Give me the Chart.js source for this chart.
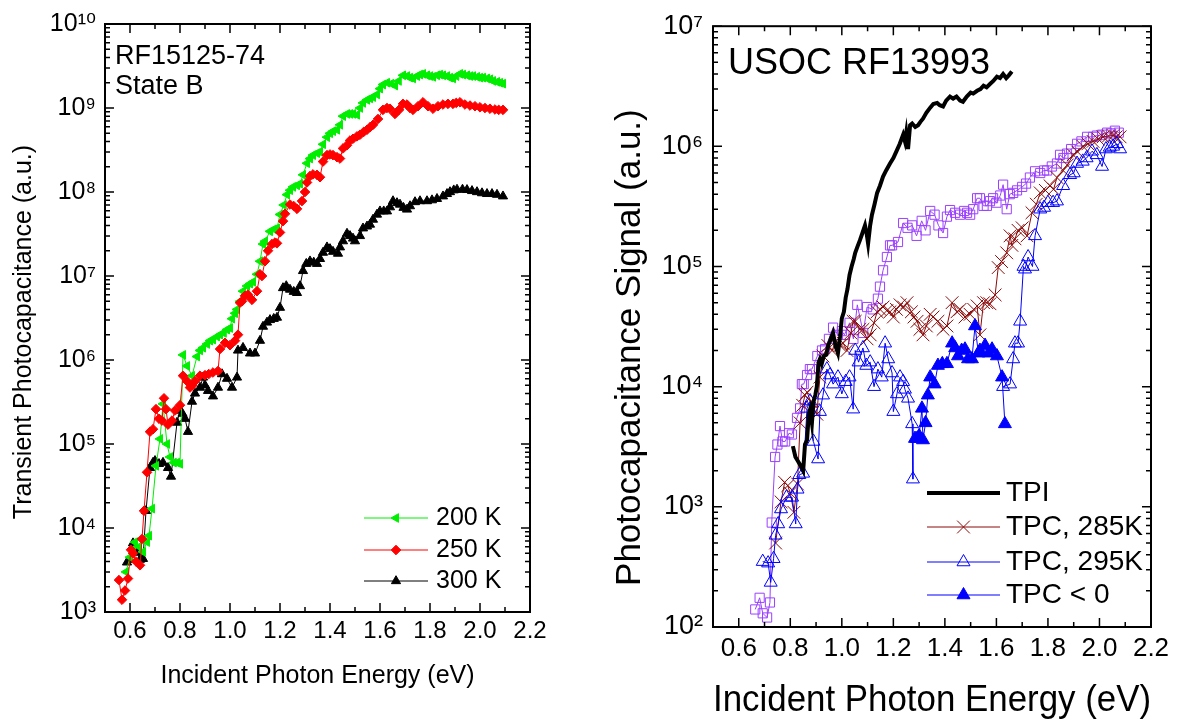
<!DOCTYPE html>
<html>
<head>
<meta charset="utf-8">
<script src="https://cdn.jsdelivr.net/npm/chart.js@4.4.1/dist/chart.umd.min.js"></script>
<style>
  body { margin: 0; background: #fff; }
  #wrap { position: relative; width: 1179px; height: 723px; }
  .panel { position: absolute; top: 0; }
  #left { left: 0; }
  #right { left: 580px; }
</style>
</head>
<body>
<div id="wrap">
  <div class="panel" id="left"><canvas id="chartLeft" width="580" height="723"></canvas></div>
  <div class="panel" id="right"><canvas id="chartRight" width="599" height="723"></canvas></div>
</div>
<script>
// ---- tick values ----
const energyTicks = [0.6, 0.8, 1.0, 1.2, 1.4, 1.6, 1.8, 2.0, 2.2];
const leftDecades = [1e3, 1e4, 1e5, 1e6, 1e7, 1e8, 1e9, 1e10];
const rightDecades = [1e2, 1e3, 1e4, 1e5, 1e6, 1e7];

// ---- left panel: transient photocapacitance, [energy eV, signal] ----
const data200K = [
  [0.584,3.0e3],[0.600,4.5e3],[0.612,5.5e3],[0.620,6.8e3],[0.636,6.0e3],[0.652,5.2e3],[0.668,6.8e3],[0.676,8.1e3],
  [0.688,1.7e4],[0.704,5.5e4],[0.720,1.15e5],[0.732,3.0e5],[0.748,1.0e5],[0.760,7.0e4],[0.775,6.0e4],[0.788,6.0e4],
  [0.800,5.8e4],[0.812,1.15e6],[0.828,8.5e5],[0.848,6.5e5],[0.868,1.1e6],[0.880,1.3e6],[0.892,1.4e6],[0.908,1.55e6],
  [0.920,1.7e6],[0.932,1.75e6],[0.948,1.9e6],[0.960,2.0e6],[0.975,2.1e6],[0.988,2.3e6],[1.000,2.4e6],[1.008,3.1e6],
  [1.020,3.6e6],[1.028,4.0e6],[1.040,5.0e6],[1.052,6.6e6],[1.068,7.6e6],[1.080,8.1e6],[1.092,8.5e6],[1.108,1.05e7],
  [1.120,1.5e7],[1.132,2.4e7],[1.140,2.6e7],[1.160,3.4e7],[1.175,3.6e7],[1.188,3.7e7],[1.200,5.4e7],[1.215,7.0e7],
  [1.228,9.3e7],[1.240,1.05e8],[1.252,1.15e8],[1.268,1.2e8],[1.280,1.25e8],[1.292,1.6e8],[1.308,2.2e8],[1.320,2.5e8],
  [1.332,2.75e8],[1.348,2.9e8],[1.360,3.0e8],[1.372,3.7e8],[1.388,4.5e8],[1.400,5.0e8],[1.412,5.3e8],[1.428,5.5e8],
  [1.440,6.3e8],[1.452,8.0e8],[1.468,8.5e8],[1.480,8.5e8],[1.492,8.5e8],[1.508,8.3e8],[1.520,1.0e9],[1.532,1.15e9],
  [1.548,1.25e9],[1.560,1.3e9],[1.572,1.35e9],[1.588,1.45e9],[1.600,1.7e9],[1.612,1.9e9],[1.628,2.0e9],[1.645,1.95e9],
  [1.660,1.85e9],[1.675,2.1e9],[1.692,2.45e9],[1.708,2.4e9],[1.720,2.3e9],[1.732,2.25e9],[1.748,2.4e9],[1.760,2.5e9],
  [1.772,2.55e9],[1.788,2.45e9],[1.800,2.4e9],[1.812,2.35e9],[1.828,2.45e9],[1.840,2.5e9],[1.852,2.45e9],[1.868,2.4e9],
  [1.880,2.3e9],[1.892,2.25e9],[1.905,2.4e9],[1.920,2.55e9],[1.932,2.5e9],[1.948,2.45e9],[1.960,2.4e9],[1.972,2.4e9],
  [1.988,2.35e9],[2.000,2.3e9],[2.012,2.3e9],[2.028,2.25e9],[2.040,2.2e9],[2.052,2.1e9],[2.068,2.05e9],[2.080,2.0e9],
  [2.092,1.95e9]
];
const data250K = [
  [0.556,2.4e3],[0.568,1.4e3],[0.580,1.8e3],[0.592,2.5e3],[0.604,5.5e3],[0.612,5.0e3],[0.624,4.0e3],[0.640,3.6e3],
  [0.648,7.4e3],[0.656,1.6e4],[0.668,4.6e4],[0.680,1.4e5],[0.692,1.5e5],[0.704,2.6e5],[0.716,2.0e5],[0.728,1.9e5],
  [0.736,3.5e5],[0.744,2.6e5],[0.752,1.7e5],[0.768,1.9e5],[0.780,2.5e5],[0.800,2.9e5],[0.812,6.5e5],[0.828,5.6e5],
  [0.840,4.7e5],[0.850,5.0e5],[0.860,5.6e5],[0.880,6.5e5],[0.900,6.6e5],[0.915,6.8e5],[0.932,7.1e5],[0.952,7.4e5],
  [0.960,1.35e6],[0.980,1.6e6],[1.000,1.5e6],[1.020,1.7e6],[1.032,2.0e6],[1.040,4.8e6],[1.048,5.0e6],[1.060,5.8e6],
  [1.072,6.0e6],[1.088,5.2e6],[1.108,6.6e6],[1.120,1.05e7],[1.128,1.0e7],[1.140,1.5e7],[1.152,2.0e7],[1.168,2.4e7],
  [1.180,2.5e7],[1.188,2.45e7],[1.200,3.3e7],[1.212,4.5e7],[1.220,5.5e7],[1.240,7.1e7],[1.255,6.8e7],[1.268,6.3e7],
  [1.288,7.8e7],[1.300,1.0e8],[1.308,1.3e8],[1.320,1.55e8],[1.332,1.62e8],[1.348,1.6e8],[1.360,1.5e8],[1.372,2.3e8],
  [1.388,2.75e8],[1.400,2.8e8],[1.412,2.75e8],[1.428,2.6e8],[1.440,2.5e8],[1.452,3.3e8],[1.468,3.6e8],[1.480,4.1e8],
  [1.492,4.3e8],[1.508,4.6e8],[1.520,4.8e8],[1.535,5.2e8],[1.548,5.5e8],[1.560,5.9e8],[1.572,6.3e8],[1.592,7.4e8],
  [1.612,9.5e8],[1.628,1.0e9],[1.640,9.8e8],[1.660,8.5e8],[1.676,9.5e8],[1.692,1.12e9],[1.708,1.1e9],[1.720,1.0e9],
  [1.732,9.5e8],[1.752,1.05e9],[1.772,1.17e9],[1.792,1.05e9],[1.812,9.8e8],[1.832,1.05e9],[1.852,1.1e9],[1.872,1.12e9],
  [1.892,1.12e9],[1.905,1.15e9],[1.920,1.17e9],[1.940,1.1e9],[1.960,1.07e9],[1.980,1.05e9],[2.000,1.02e9],[2.020,1.0e9],
  [2.040,9.8e8],[2.060,9.6e8],[2.075,9.5e8],[2.092,9.5e8]
];
const data300K = [
  [0.588,3.9e3],[0.600,4.2e3],[0.612,6.6e3],[0.628,5.1e3],[0.640,4.2e3],[0.652,4.3e3],[0.664,1.6e4],[0.680,5.2e4],
  [0.692,6.0e4],[0.700,6.3e4],[0.716,5.8e4],[0.732,6.0e4],[0.752,5.2e4],[0.764,4.1e4],[0.788,1.8e5],[0.800,2.5e5],
  [0.810,2.3e5],[0.820,2.0e5],[0.832,1.4e5],[0.848,3.2e5],[0.860,4.0e5],[0.880,4.7e5],[0.892,6.2e5],[0.900,5.0e5],
  [0.912,4.3e5],[0.932,3.7e5],[0.952,4.7e5],[0.968,6.8e5],[0.988,6.0e5],[1.008,4.7e5],[1.028,6.2e5],[1.032,1.3e6],
  [1.052,1.4e6],[1.080,1.2e6],[1.100,1.2e6],[1.120,1.7e6],[1.132,2.5e6],[1.148,2.8e6],[1.160,3.0e6],[1.175,3.1e6],
  [1.188,3.2e6],[1.200,4.2e6],[1.212,7.2e6],[1.225,7.6e6],[1.240,6.9e6],[1.255,6.5e6],[1.268,6.3e6],[1.280,7.6e6],
  [1.292,1.15e7],[1.305,1.4e7],[1.320,1.5e7],[1.335,1.45e7],[1.348,1.4e7],[1.360,1.6e7],[1.372,1.9e7],[1.388,2.2e7],
  [1.400,2.1e7],[1.412,1.95e7],[1.432,1.85e7],[1.440,2.2e7],[1.452,2.6e7],[1.468,3.2e7],[1.480,3.0e7],[1.492,2.8e7],
  [1.500,2.6e7],[1.520,3.0e7],[1.532,3.7e7],[1.548,3.9e7],[1.560,4.1e7],[1.572,4.7e7],[1.588,5.4e7],[1.600,5.9e7],
  [1.615,5.9e7],[1.628,5.9e7],[1.640,6.6e7],[1.652,7.8e7],[1.668,7.4e7],[1.680,7.1e7],[1.694,6.5e7],[1.708,6.2e7],
  [1.720,6.8e7],[1.740,7.6e7],[1.760,7.8e7],[1.788,7.8e7],[1.808,8.0e7],[1.828,8.3e7],[1.852,8.9e7],[1.868,9.5e7],
  [1.880,1.0e8],[1.895,1.05e8],[1.908,1.07e8],[1.930,1.07e8],[1.948,1.06e8],[1.968,1.03e8],[1.988,1.0e8],[2.008,9.7e7],
  [2.028,9.5e7],[2.048,9.5e7],[2.068,9.3e7],[2.092,8.9e7]
];

// ---- right panel: photocapacitance signal, [energy eV, signal] ----
const dataTPI = [
  [0.810,3.2e3],[0.820,2.6e3],[0.830,2.4e3],[0.840,2.2e3],[0.850,2.0e3],[0.857,3.3e3],[0.865,3.6e3],[0.872,6.0e3],
  [0.877,6.5e3],[0.884,5.0e3],[0.890,7.5e3],[0.897,8.5e3],[0.903,1.0e4],[0.910,1.6e4],[0.915,1.7e4],[0.922,1.55e4],
  [0.930,1.8e4],[0.940,1.85e4],[0.947,2.2e4],[0.954,2.4e4],[0.960,2.6e4],[0.966,2.8e4],[0.975,2.2e4],[0.985,1.9e4],
  [0.993,2.6e4],[1.000,3.7e4],[1.008,4.2e4],[1.015,5.5e4],[1.022,6.5e4],[1.030,8.5e4],[1.038,1.0e5],[1.046,1.15e5],
  [1.052,1.3e5],[1.060,1.45e5],[1.070,1.65e5],[1.080,1.9e5],[1.090,2.2e5],[1.096,1.9e5],[1.102,1.55e5],[1.110,2.2e5],
  [1.117,2.7e5],[1.127,3.3e5],[1.137,4.1e5],[1.148,4.7e5],[1.160,5.6e5],[1.172,6.3e5],[1.187,7.2e5],[1.200,8.0e5],
  [1.214,9.3e5],[1.225,1.05e6],[1.238,1.25e6],[1.245,1.1e6],[1.250,1.3e6],[1.257,9.5e5],[1.265,1.5e6],[1.273,1.55e6],
  [1.285,1.45e6],[1.296,1.5e6],[1.305,1.6e6],[1.315,1.7e6],[1.328,1.9e6],[1.343,2.1e6],[1.355,2.25e6],[1.370,2.3e6],
  [1.380,2.2e6],[1.393,2.15e6],[1.405,2.4e6],[1.420,2.6e6],[1.432,2.5e6],[1.445,2.6e6],[1.459,2.4e6],[1.470,2.35e6],
  [1.485,2.6e6],[1.500,2.8e6],[1.510,2.75e6],[1.525,2.9e6],[1.538,3.0e6],[1.550,3.2e6],[1.562,3.1e6],[1.575,3.3e6],
  [1.588,3.5e6],[1.602,3.8e6],[1.614,3.7e6],[1.626,4.0e6],[1.638,3.7e6],[1.648,3.9e6],[1.660,4.2e6]
];
const dataViolet = [
  [0.664,1.4e2],[0.681,1.75e2],[0.693,1.3e2],[0.710,1.2e2],[0.721,1.6e2],[0.728,7.4e2],[0.741,2.6e3],[0.750,3.3e3],
  [0.760,4.7e3],[0.770,3.5e3],[0.780,3.5e3],[0.795,4.1e3],[0.806,4.0e3],[0.826,5.5e3],[0.838,6.6e3],[0.845,1.05e4],
  [0.852,1.05e4],[0.865,1.25e4],[0.876,1.4e4],[0.884,1.4e4],[0.905,1.8e4],[0.923,2.0e4],[0.935,2.05e4],[0.950,2.5e4],
  [0.966,3.1e4],[0.985,2.7e4],[1.000,2.9e4],[1.010,2.7e4],[1.030,3.4e4],[1.045,2.5e4],[1.060,4.8e4],[1.083,2.8e4],
  [1.098,4.6e4],[1.120,4.4e4],[1.140,5.4e4],[1.148,6.8e4],[1.160,9.3e4],[1.175,1.2e5],[1.187,1.5e5],[1.195,1.5e5],
  [1.218,1.6e5],[1.238,2.3e5],[1.255,2.1e5],[1.273,2.2e5],[1.290,1.8e5],[1.310,2.4e5],[1.325,2.0e5],[1.343,2.9e5],
  [1.360,2.7e5],[1.375,2.2e5],[1.393,1.9e5],[1.408,2.6e5],[1.420,2.95e5],[1.440,2.8e5],[1.459,2.7e5],[1.475,2.9e5],
  [1.486,2.8e5],[1.498,2.7e5],[1.510,3.0e5],[1.525,3.7e5],[1.536,3.7e5],[1.550,3.2e5],[1.563,3.2e5],[1.575,3.5e5],
  [1.587,3.7e5],[1.600,3.4e5],[1.615,3.9e5],[1.626,4.8e5],[1.640,3.0e5],[1.652,4.0e5],[1.665,4.1e5],[1.680,4.3e5],
  [1.700,4.6e5],[1.715,4.9e5],[1.730,5.5e5],[1.750,6.2e5],[1.770,6.0e5],[1.785,6.3e5],[1.797,6.3e5],[1.815,6.8e5],
  [1.835,7.2e5],[1.847,8.5e5],[1.860,8.0e5],[1.874,8.7e5],[1.890,9.5e5],[1.913,1.05e6],[1.930,1.1e6],[1.952,1.2e6],
  [1.975,1.2e6],[1.990,1.23e6],[2.010,1.25e6],[2.030,1.3e6],[2.045,1.28e6],[2.060,1.35e6],[2.075,1.3e6]
];
const data285K = [
  [0.743,5.0e2],[0.764,1.1e3],[0.778,1.6e3],[0.790,1.5e3],[0.800,1.3e3],[0.814,9.0e2],[0.828,1.55e3],[0.838,5.0e3],
  [0.848,7.0e3],[0.857,8.5e3],[0.865,9.0e3],[0.880,7.5e3],[0.890,6.5e3],[0.903,5.9e3],[0.915,1.2e4],[0.927,1.8e4],
  [0.946,2.2e4],[0.962,2.0e4],[0.978,2.4e4],[0.993,2.2e4],[1.005,2.3e4],[1.020,2.0e4],[1.035,2.8e4],[1.044,3.5e4],
  [1.052,3.5e4],[1.070,3.0e4],[1.082,3.0e4],[1.098,2.5e4],[1.110,2.7e4],[1.125,3.4e4],[1.137,4.2e4],[1.148,4.4e4],
  [1.160,4.6e4],[1.175,4.3e4],[1.187,4.2e4],[1.200,3.8e4],[1.212,4.4e4],[1.226,4.8e4],[1.240,4.6e4],[1.253,5.0e4],
  [1.270,4.2e4],[1.280,3.8e4],[1.292,3.5e4],[1.303,3.0e4],[1.315,2.7e4],[1.328,3.2e4],[1.343,4.0e4],[1.354,3.8e4],
  [1.373,3.5e4],[1.393,3.0e4],[1.408,3.2e4],[1.428,5.0e4],[1.447,4.2e4],[1.459,4.4e4],[1.478,3.8e4],[1.498,4.0e4],
  [1.512,4.4e4],[1.525,4.7e4],[1.536,2.7e4],[1.550,5.0e4],[1.563,5.0e4],[1.575,4.9e4],[1.595,5.8e4],[1.607,9.8e4],
  [1.620,1.1e5],[1.640,1.3e5],[1.653,1.8e5],[1.660,1.5e5],[1.672,1.7e5],[1.684,2.0e5],[1.700,2.1e5],[1.719,1.8e5],
  [1.738,2.8e5],[1.755,3.3e5],[1.770,4.1e5],[1.790,4.3e5],[1.808,4.7e5],[1.822,4.4e5],[1.835,5.5e5],[1.859,6.3e5],
  [1.875,7.0e5],[1.898,8.5e5],[1.915,9.0e5],[1.936,1.0e6],[1.955,1.05e6],[1.975,1.1e6],[1.995,1.15e6],[2.014,1.2e6],
  [2.035,1.22e6],[2.053,1.23e6],[2.065,1.2e6],[2.080,1.2e6]
];
// null marks the stretch where the signal is negative (drawn as "TPC < 0")
const data295K = [
  [0.693,3.5e2],[0.714,3.4e2],[0.724,2.35e2],[0.735,3.7e2],[0.743,5.8e2],[0.753,7.2e2],[0.764,9.6e2],[0.785,1.2e3],
  [0.807,1.2e3],[0.821,7.2e2],[0.828,1.4e3],[0.835,1.85e3],[0.850,1.9e3],[0.865,6.6e3],[0.877,7.6e3],[0.890,3.5e3],
  [0.908,2.5e3],[0.915,6.2e3],[0.927,8.5e3],[0.942,1.4e4],[0.954,1.25e4],[0.966,1.05e4],[0.985,1.2e4],[1.000,8.7e3],
  [1.015,1.1e4],[1.030,1.2e4],[1.044,6.5e3],[1.052,2.0e4],[1.065,1.6e4],[1.082,2.1e4],[1.095,1.5e4],[1.110,1.6e4],
  [1.125,1.0e4],[1.140,1.4e4],[1.155,1.2e4],[1.168,2.3e4],[1.180,1.7e4],[1.195,1.3e4],[1.200,6.2e3],[1.214,8.7e3],
  [1.226,1.2e4],[1.238,1.1e4],[1.245,9.5e3],[1.257,8.0e3],[1.273,4.9e3],[1.276,1.7e3],
  [1.450,null],
  [1.626,1.0e4],[1.653,1.05e4],[1.665,1.7e4],[1.672,2.3e4],[1.684,2.3e4],[1.692,3.5e4],[1.705,1.0e5],[1.711,9.5e4],
  [1.723,1.2e5],[1.740,1.0e5],[1.750,1.8e5],[1.770,3.0e5],[1.785,3.1e5],[1.800,3.4e5],[1.820,3.4e5],[1.835,3.5e5],
  [1.859,4.7e5],[1.886,5.8e5],[1.900,6.0e5],[1.913,7.2e5],[1.935,7.5e5],[1.950,8.0e5],[1.971,9.1e5],[1.990,8.5e5],
  [2.010,6.8e5],[2.025,9.5e5],[2.040,9.8e5],[2.053,1.0e6],[2.068,1.05e6],[2.080,9.5e5]
];
const dataNegative = [
  [1.284,3.7e3],[1.292,3.7e3],[1.300,3.9e3],[1.311,6.6e3],[1.315,3.6e3],[1.325,5.0e3],[1.334,8.5e3],[1.343,1.2e4],
  [1.360,1.05e4],[1.373,1.5e4],[1.390,1.55e4],[1.408,1.55e4],[1.428,2.3e4],[1.440,2.1e4],[1.451,1.8e4],[1.465,2.0e4],
  [1.478,2.05e4],[1.490,1.7e4],[1.505,1.7e4],[1.517,3.2e4],[1.530,1.9e4],[1.536,2.0e4],[1.556,2.2e4],[1.570,1.9e4],
  [1.583,2.05e4],[1.602,1.8e4],[1.622,1.2e4],[1.633,4.9e3]
];

const FONT = '"Liberation Sans", Arial, "DejaVu Sans", sans-serif';
const SUP = { 0: '⁰', 1: '¹', 2: '²', 3: '³', 4: '⁴', 5: '⁵', 6: '⁶', 7: '⁷', 8: '⁸', 9: '⁹' };

function toPoints(arr) {
  return arr.map(([x, y]) => ({ x: x, y: y }));
}

// 10^n label with superscript exponent
function powerLabel(v) {
  const e = String(Math.round(Math.log10(v)));
  return '10' + e.split('').map(c => SUP[c]).join('');
}

// box round the plot with inward ticks on all four sides
const frameTicks = {
  id: 'frameTicks',
  afterDraw(chart, args, opts) {
    const { ctx, chartArea: a, scales: { x, y } } = chart;
    ctx.save();
    ctx.strokeStyle = '#000';
    ctx.lineWidth = 2;
    ctx.strokeRect(a.left, a.top, a.right - a.left, a.bottom - a.top);
    ctx.lineWidth = 1.5;
    ctx.beginPath();
    for (let i = 5; i <= 22; i++) {
      const px = x.getPixelForValue(i / 10);
      const len = i % 2 === 0 ? opts.major : opts.minor;
      ctx.moveTo(px, a.bottom); ctx.lineTo(px, a.bottom - len);
      ctx.moveTo(px, a.top); ctx.lineTo(px, a.top + len);
    }
    const e0 = Math.round(Math.log10(y.min));
    const e1 = Math.round(Math.log10(y.max));
    for (let e = e0; e <= e1; e++) {
      for (let k = 1; k <= 9; k++) {
        if (e === e1 && k > 1) break;
        const py = y.getPixelForValue(k * Math.pow(10, e));
        const len = k === 1 ? opts.major : opts.minor;
        ctx.moveTo(a.left, py); ctx.lineTo(a.left + len, py);
        ctx.moveTo(a.right, py); ctx.lineTo(a.right - len, py);
      }
    }
    ctx.stroke();
    ctx.restore();
  }
};

// sample name text and the in-plot legend
const notes = {
  id: 'notes',
  afterDraw(chart, args, opts) {
    const ctx = chart.ctx;
    ctx.save();
    ctx.fillStyle = '#000';
    ctx.textAlign = 'left';
    ctx.textBaseline = 'alphabetic';
    ctx.font = opts.font;
    opts.lines.forEach(l => ctx.fillText(l.text, l.x, l.y));

    const lg = opts.legend;
    ctx.font = lg.font;
    ctx.textBaseline = 'middle';
    lg.rows.forEach((idx, i) => {
      const ds = chart.data.datasets[idx];
      const y = lg.y[i];
      ctx.strokeStyle = ds.borderColor;
      ctx.lineWidth = ds.borderWidth;
      ctx.beginPath();
      ctx.moveTo(lg.x1, y);
      ctx.lineTo(lg.x2, y);
      ctx.stroke();
      if (ds.pointRadius > 0 && Chart.helpers && Chart.helpers.drawPoint) {
        ctx.fillStyle = ds.pointBackgroundColor;
        ctx.strokeStyle = ds.pointBorderColor;
        ctx.lineWidth = ds.pointBorderWidth;
        Chart.helpers.drawPoint(ctx, {
          pointStyle: ds.pointStyle,
          radius: ds.pointRadius,
          rotation: ds.pointRotation || 0,
          borderWidth: ds.pointBorderWidth
        }, (lg.x1 + lg.x2) / 2, y);
      }
      ctx.fillStyle = '#000';
      ctx.fillText(ds.label, lg.textX, y);
    });
    ctx.restore();
  }
};

// moves the y axis title along the axis, as in the original figure
const shiftTitle = {
  id: 'shiftTitle',
  afterLayout(chart, args, opts) {
    const s = chart.scales.y;
    if (!s || s._titleShifted) return;
    const draw = s.drawTitle.bind(s);
    s.drawTitle = function () {
      const c = this.ctx;
      c.save();
      c.translate(0, opts.dy);
      draw();
      c.restore();
    };
    s._titleShifted = true;
  }
};

function series(label, data, color, style, opts) {
  return Object.assign({
    label: label,
    data: toPoints(data),
    borderColor: color,
    backgroundColor: color,
    borderWidth: 1,
    pointStyle: style,
    pointRadius: 5,
    pointBackgroundColor: color,
    pointBorderColor: color,
    pointBorderWidth: 1,
    spanGaps: false,
    tension: 0
  }, opts || {});
}

function axes(cfg) {
  return {
    x: {
      type: 'linear',
      min: 0.5,
      max: 2.2,
      afterBuildTicks: s => { s.ticks = energyTicks.map(v => ({ value: v })); },
      afterFit: s => { s.height = cfg.xHeight; },
      grid: { display: false, drawTicks: false },
      border: { display: false },
      ticks: {
        autoSkip: false,
        maxRotation: 0,
        padding: cfg.xTickPad,
        color: '#000',
        font: { family: FONT, size: cfg.xTickSize },
        callback: v => Number(v).toFixed(1)
      },
      title: {
        display: true,
        text: 'Incident Photon Energy (eV)',
        color: '#000',
        font: { family: FONT, size: cfg.xTitleSize },
        padding: { top: 0, bottom: cfg.xTitlePad }
      }
    },
    y: {
      type: 'logarithmic',
      min: cfg.decades[0],
      max: cfg.decades[cfg.decades.length - 1],
      afterBuildTicks: s => { s.ticks = cfg.decades.map(v => ({ value: v })); },
      afterFit: s => { s.width = cfg.yWidth; },
      grid: { display: false, drawTicks: false },
      border: { display: false },
      ticks: {
        autoSkip: false,
        padding: cfg.yTickPad,
        color: '#000',
        font: { family: FONT, size: cfg.yTickSize },
        callback: v => powerLabel(v)
      },
      title: {
        display: true,
        text: cfg.yTitle,
        color: '#000',
        font: { family: FONT, size: cfg.yTitleSize },
        padding: { top: cfg.yTitlePad, bottom: 0 }
      }
    }
  };
}

// ---- left chart ----
new Chart(document.getElementById('chartLeft'), {
  type: 'line',
  data: {
    datasets: [
      series('250 K', data250K, '#ff0000', 'rectRot', { pointRadius: 4.8 }),
      series('200 K', data200K, '#00ee00', 'triangle', { pointRotation: 270, pointRadius: 5 }),
      series('300 K', data300K, '#000000', 'triangle', { pointRadius: 5.3 })
    ]
  },
  options: {
    responsive: false,
    animation: false,
    layout: { padding: { top: 22, right: 50, left: 0, bottom: 0 } },
    scales: axes({
      decades: leftDecades, xHeight: 111, yWidth: 105,
      xTickSize: 24, xTickPad: 5, xTitleSize: 25, xTitlePad: 32,
      yTickSize: 25, yTickPad: 9, yTitleSize: 25, yTitlePad: 9,
      yTitle: 'Transient Photocapacitance (a.u.)'
    }),
    plugins: {
      legend: { display: false },
      tooltip: { enabled: false },
      frameTicks: { major: 9, minor: 5 },
      shiftTitle: { dy: 14 },
      notes: {
        font: '27px ' + FONT,
        lines: [
          { text: 'RF15125-74', x: 115, y: 64 },
          { text: 'State B', x: 115, y: 94 }
        ],
        legend: {
          font: '25px ' + FONT,
          x1: 364, x2: 428, textX: 436,
          rows: [1, 0, 2],
          y: [518, 550, 581]
        }
      }
    }
  },
  plugins: [frameTicks, notes, shiftTitle]
});

// ---- right chart ----
new Chart(document.getElementById('chartRight'), {
  type: 'line',
  data: {
    datasets: [
      series('TPI', dataTPI, '#000000', 'circle', { borderWidth: 4, pointRadius: 0 }),
      series('TPC < 0', dataNegative, '#0000ff', 'triangle', { pointRadius: 7.5 }),
      series('TPC, 295K', data295K, '#0000ff', 'triangle',
        { pointRadius: 7.5, pointBackgroundColor: 'rgba(255,255,255,0)' }),
      series('TPC, 285K', data285K, '#8b0a0a', 'crossRot', { pointRadius: 9 }),
      series('TPC', dataViolet, '#9b40ff', 'rect',
        { pointRadius: 6.5, pointBackgroundColor: 'rgba(255,255,255,0)' })
    ]
  },
  options: {
    responsive: false,
    animation: false,
    layout: { padding: { top: 22, right: 28, left: 0, bottom: 0 } },
    scales: axes({
      decades: rightDecades, xHeight: 96, yWidth: 133,
      xTickSize: 26, xTickPad: 6, xTitleSize: 36, xTitlePad: 0,
      yTickSize: 27, yTickPad: 10, yTitleSize: 35, yTitlePad: 29,
      yTitle: 'Photocapacitance Signal (a.u.)'
    }),
    plugins: {
      legend: { display: false },
      tooltip: { enabled: false },
      frameTicks: { major: 9, minor: 5 },
      shiftTitle: { dy: 21 },
      notes: {
        font: '36px ' + FONT,
        lines: [{ text: 'USOC RF13993', x: 148, y: 74 }],
        legend: {
          font: '28px ' + FONT,
          x1: 347, x2: 420, textX: 426,
          rows: [0, 3, 2, 1],
          y: [493, 527, 562, 595]
        }
      }
    }
  },
  plugins: [frameTicks, notes, shiftTitle]
});
</script>
</body>
</html>
